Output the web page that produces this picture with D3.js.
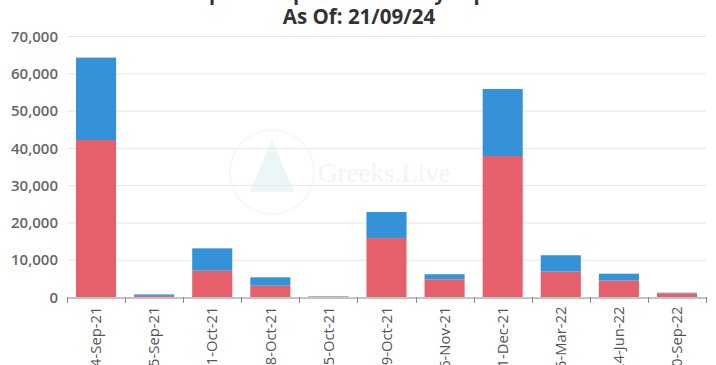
<!DOCTYPE html>
<html><head><meta charset="utf-8">
<script src="https://cdn.jsdelivr.net/npm/d3@7"></script>
<style>body{margin:0;background:#fff;}svg{display:block;font-family:"Open Sans",sans-serif;}</style>
</head><body><svg id="c" width="716" height="365"></svg>
<script>
const categories = ["24-Sep-21","25-Sep-21","1-Oct-21","8-Oct-21","15-Oct-21","29-Oct-21","26-Nov-21","31-Dec-21","25-Mar-22","24-Jun-22","30-Sep-22"];
const calls = [42100, 300, 7050, 3030, 100, 15800, 4750, 37800, 6800, 4400, 1000];
const puts  = [22100, 400, 6000, 2250, 100, 7000, 1350, 18000, 4400, 1850, 150];
const yTicks = [0,10000,20000,30000,40000,50000,60000,70000];
const titleLines = ["BTC Options Open Interest By Expiration", "As Of: 21/09/24"];

const svg = d3.select("#c");
const x = d3.scaleBand().domain(categories).range([67,706]).paddingInner(0.31).paddingOuter(0.155);
const y = d3.scaleLinear().domain([0,70000]).range([297,36]);

// title
svg.append("text").attr("x",352).attr("y",0).attr("text-anchor","middle")
  .attr("font-size",20).attr("font-weight",700).attr("fill","#333").text(titleLines[0]);
svg.append("text").attr("x",359).attr("y",24).attr("text-anchor","middle")
  .attr("font-size",20.5).attr("font-weight",700).attr("fill","#333").text(titleLines[1]);

// gridlines
svg.append("g").selectAll("line").data(yTicks.filter(d=>d>0)).join("line")
  .attr("x1",67).attr("x2",706).attr("y1",d=>y(d)+0.5).attr("y2",d=>y(d)+0.5)
  .attr("stroke","#e6e6e6").attr("stroke-width",1);

// watermark
const wm = svg.append("g").attr("opacity",0.5);
wm.append("circle").attr("cx",272).attr("cy",172).attr("r",42).attr("fill","none").attr("stroke","#eef5f5").attr("stroke-width",2);
wm.append("path").attr("d","M250,192 L272,140 L294,192 Z").attr("fill","#dcefee");
wm.append("text").attr("x",318).attr("y",182).attr("font-family","Liberation Serif, serif").attr("font-size",27).attr("fill","#e3eeee").text("Greeks.Live");

// y axis labels
const yAxis = d3.axisLeft(y).tickValues(yTicks).tickSize(0).tickPadding(8).tickFormat(d3.format(","));
const ya = svg.append("g").attr("transform","translate(66,0)").call(yAxis);
ya.select(".domain").remove();
ya.selectAll("text").attr("font-size",15).attr("font-weight",600).attr("fill","#666").attr("font-family","Open Sans, sans-serif").attr("dy","0.35em");

// bars
const stackData = categories.map((c,i)=>({c, calls:calls[i], puts:puts[i]}));
const series = d3.stack().keys(["calls","puts"])(stackData);
const colors = {calls:"#e5606a", puts:"#3592d8"};
svg.append("g").selectAll("g").data(series).join("g").attr("fill",s=>colors[s.key])
  .selectAll("rect").data(s=>s).join("rect")
  .attr("x",d=>x(d.data.c)).attr("width",x.bandwidth())
  .attr("y",d=>y(d[1])).attr("height",d=>y(d[0])-y(d[1]));

// x axis
const xAxis = d3.axisBottom(x).tickSize(0).tickPadding(0);
const xa = svg.append("g").attr("transform","translate(0,297.5)").call(xAxis);
xa.select(".domain").attr("stroke","#888");
xa.selectAll(".tick line").remove();
const bounds = categories.map(c=>x(c)-x.step()*x.paddingInner()/2).concat([706]);
svg.append("g").selectAll("line").data(bounds).join("line")
  .attr("x1",d=>Math.round(d)+0.5).attr("x2",d=>Math.round(d)+0.5).attr("y1",297).attr("y2",303)
  .attr("stroke","#888");
xa.selectAll("text").attr("font-size",14.8).attr("fill","#555").attr("font-family","Open Sans, sans-serif")
  .attr("transform","rotate(-90)").attr("text-anchor","end").attr("x",-9).attr("y",0).attr("dy","0.35em");
</script></body></html>
